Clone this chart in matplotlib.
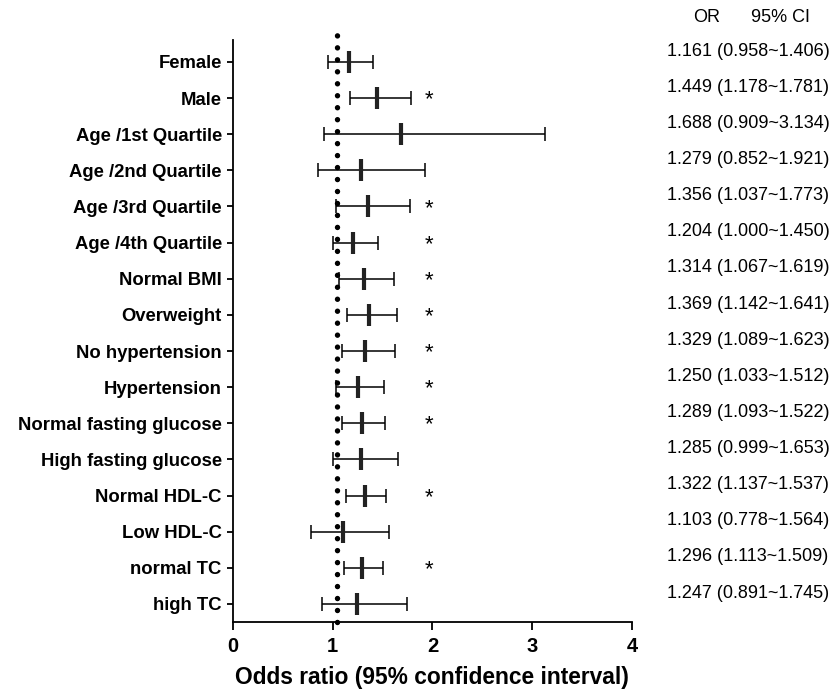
import matplotlib
matplotlib.use("Agg")
import matplotlib.pyplot as plt

plt.rcParams['font.family'] = ['Liberation Sans', 'DejaVu Sans']

groups = ["Female", "Male", "Age /1st Quartile", "Age /2nd Quartile", "Age /3rd Quartile",
          "Age /4th Quartile", "Normal BMI", "Overweight", "No hypertension", "Hypertension",
          "Normal fasting glucose", "High fasting glucose", "Normal HDL-C", "Low HDL-C",
          "normal TC", "high TC"]
odds = [1.161, 1.449, 1.688, 1.279, 1.356, 1.204, 1.314, 1.369, 1.329, 1.250,
        1.289, 1.285, 1.322, 1.103, 1.296, 1.247]
ci_low = [0.958, 1.178, 0.909, 0.852, 1.037, 1.000, 1.067, 1.142, 1.089, 1.033,
          1.093, 0.999, 1.137, 0.778, 1.113, 0.891]
ci_high = [1.406, 1.781, 3.134, 1.921, 1.773, 1.450, 1.619, 1.641, 1.623, 1.512,
           1.522, 1.653, 1.537, 1.564, 1.509, 1.745]
signif = [False, True, False, False, True, True, True, True, True, True,
          True, False, True, False, True, False]
ref_line = 1.04

fig = plt.figure(figsize=(8.38, 6.9), dpi=100)
ax = fig.add_axes([0.278, 0.0986, 0.476, 0.8608])

ypos = list(range(len(groups)))

# confidence intervals with caps
ax.errorbar(odds, ypos, xerr=[[o - l for o, l in zip(odds, ci_low)],
                              [h - o for o, h in zip(odds, ci_high)]],
            fmt='none', ecolor='black', elinewidth=1.1, capsize=5, capthick=1.1)
# point estimates as thick bars
ax.scatter(odds, ypos, marker='|', s=250, linewidths=3, color='#222222', zorder=3)

# reference line
ax.axvline(ref_line, ymax=1.0, color='black', lw=3.9, linestyle=(0, (0.01, 2.2)),
           dash_capstyle='round', zorder=4, clip_on=False)

for y, s in zip(ypos, signif):
    if s:
        ax.text(1.97, y + 0.05, "*", ha='center', va='center', fontsize=16)

# right-hand table
ax.text(4.75, -1.22, "OR", ha='center', va='center', fontsize=13, clip_on=False)
ax.text(5.49, -1.22, "95% CI", ha='center', va='center', fontsize=13, clip_on=False)
for y, o, l, h in zip(ypos, odds, ci_low, ci_high):
    ax.text(4.35, y - 0.3, "%.3f (%.3f~%.3f)" % (o, l, h), ha='left', va='center',
            fontsize=13, clip_on=False)

ax.set_xlim(0, 4)
ax.set_ylim(15.5, -0.94)
ax.set_xticks([0, 1, 2, 3, 4])
ax.set_xticklabels(["0", "1", "2", "3", "4"], fontsize=14.5, fontweight='bold')
ax.set_yticks(ypos)
ax.set_yticklabels(groups, fontsize=13.3, fontweight='bold')
ax.set_xlabel("Odds ratio (95% confidence interval)", fontsize=16.4, fontweight='bold',
              labelpad=7)

ax.spines['top'].set_visible(False)
ax.spines['right'].set_visible(False)
ax.spines['left'].set_bounds(15.5, -0.61)
ax.spines['left'].set_linewidth(1.3)
ax.spines['bottom'].set_linewidth(1.3)
ax.tick_params(axis='x', direction='out', length=6, width=1.3, pad=5)
ax.tick_params(axis='y', direction='out', length=4, width=1.3, pad=4)

fig.savefig("out.png", dpi=100)
